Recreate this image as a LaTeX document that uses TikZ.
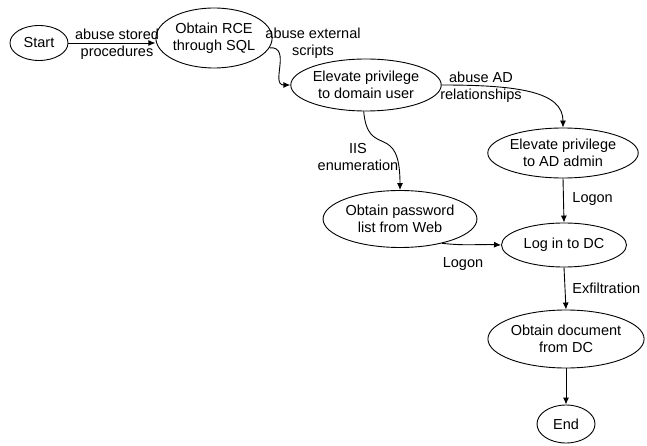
\documentclass[tikz,border=0pt]{standalone}
\usepackage{fontspec}
\setmainfont{Liberation Sans}
\usetikzlibrary{shapes.geometric,arrows.meta}

\begin{document}
\begin{tikzpicture}[x=1pt,y=-1pt,line width=0.9pt,
        step node/.style={draw,ellipse,inner sep=0pt,align=center},
        edge label/.style={inner sep=0pt,align=center},
        link/.style={draw,-{Latex[length=7pt,width=6pt]}}]
        \tikzstyle{every node}+=[font=\fontsize{14.5}{17}\selectfont]
        \useasboundingbox (0,0) rectangle (647,446);
        % states
        \node [step node,minimum width=58pt,minimum height=35pt] (start) at (39,43) {Start};
        \node [step node,minimum width=92pt,minimum height=60pt] (rce) at (214,38) {Obtain RCE\\through SQL};
        \node [step node,minimum width=127pt,minimum height=52pt] (domuser) at (366,85) {Elevate privilege\\to domain user};
        \node [step node,minimum width=131pt,minimum height=50pt] (adadmin) at (563,153) {Elevate privilege\\to AD admin};
        \node [step node,minimum width=135pt,minimum height=57pt] (pwlist) at (400,219) {Obtain password\\list from Web};
        \node [step node,minimum width=125pt,minimum height=44pt] (logindc) at (564,245) {Log in to DC};
        \node [step node,minimum width=137pt,minimum height=58pt] (document) at (566,339) {Obtain document\\from DC};
        \node [step node,minimum width=58pt,minimum height=38pt] (finish) at (566,424) {End};
        % transitions
        \draw [link] (start.east) -- (rce.west |- start.east);
        \node [edge label] (lstored) at (117,44) {abuse stored\\procedures};
        \draw [link] (rce.-10) .. controls (292,46) and (270,85) .. (domuser.west);
        \node [edge label] (lscripts) at (313,43) {abuse external\\scripts};
        \draw [link] (domuser.east) .. controls (520,85) and (563,92) .. (adadmin.north);
        \node [edge label] (lrel) at (481,87) {abuse AD\\relationships};
        \draw [link] (domuser.-95) .. controls (368,160) and (400,120) .. (pwlist.north);
        \node [edge label] (liis) at (358,157) {IIS\\enumeration};
        \draw [link] (adadmin.south) -- (logindc.north);
        \node [edge label,anchor=west] (llogon) at (572,199) {Logon};
        \draw [link] (pwlist.-30) .. controls (465,246) and (480,244) .. (logindc.west);
        \node [edge label] (llogonb) at (463,264) {Logon};
        \draw [link] (logindc.south) -- (document.north);
        \node [edge label,anchor=west] (lexfil) at (572,288) {Exfiltration};
        \draw [link] (document.south) -- (finish.north);
\end{tikzpicture}
\end{document}
